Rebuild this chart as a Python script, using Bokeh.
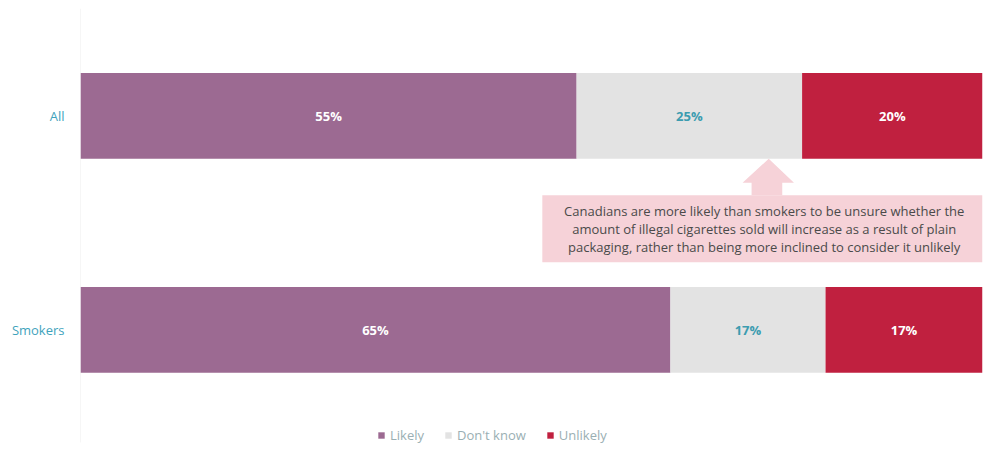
from bokeh.plotting import figure
from bokeh.models import ColumnDataSource, Range1d, Legend, LegendItem, FixedTicker
from bokeh.core.properties import value
from bokeh.embed import file_html
from bokeh.resources import INLINE
import numpy as np

categories = ["Smokers", "All"]
likely = [65.4, 55.0]
dont_know = [17.2, 25.0]
unlikely = [17.4, 20.0]
likely_labels = ["65%", "55%"]
dont_know_labels = ["17%", "25%"]
unlikely_labels = ["17%", "20%"]
series_names = ["Likely", "Don't know", "Unlikely"]
colors = ["#9C6A92", "#E3E3E3", "#C0203F"]
note_lines = [
    "Canadians are more likely than smokers to be unsure whether the",
    "amount of illegal cigarettes sold will increase as a result of plain",
    "packaging, rather than being more inclined to consider it unlikely",
]

FONT = "Open Sans"

ypos = list(range(len(categories)))
l = np.array(likely)
d = np.array(dont_know)
u = np.array(unlikely)
source = ColumnDataSource(dict(
    y=ypos, likely=likely, dont=dont_know, unlikely=unlikely,
))

p = figure(width=983, height=475, output_backend="svg", toolbar_location=None,
           y_range=Range1d(-0.657, 1.502), x_range=Range1d(0, 100),
           min_border_left=80, min_border_right=1, min_border_top=8,
           min_border_bottom=5)
p.outline_line_color = None
p.xgrid.visible = False
p.ygrid.visible = False
p.xaxis.visible = False
p.yaxis.axis_line_color = None
p.yaxis.ticker = FixedTicker(ticks=ypos)
p.yaxis.major_label_overrides = {i: c for i, c in zip(ypos, categories)}
p.yaxis.major_tick_line_color = None
p.yaxis.minor_tick_line_color = None
p.yaxis.major_label_text_color = "#3FA3BC"
p.yaxis.major_label_text_font = FONT
p.yaxis.major_label_text_font_size = "13px"
p.yaxis.major_label_standoff = 10

# faint axis line
p.segment(x0=[0], y0=[-0.526], x1=[0], y1=[1.502], line_color="#EDEDED", line_width=1)

rends = p.hbar_stack(["likely", "dont", "unlikely"], y="y", height=0.40,
                     color=colors, line_color=None, source=source)

# value labels
lab_src = ColumnDataSource(dict(
    x=list(l / 2) + list(l + d / 2) + list(l + d + u / 2),
    y=ypos * 3,
    t=likely_labels + dont_know_labels + unlikely_labels,
    c=["white"] * 2 + ["#3C9CB0"] * 2 + ["white"] * 2,
))
p.text(x="x", y="y", text="t", text_color="c", source=lab_src,
       text_align="center", text_baseline="middle", text_font=value(FONT),
       text_font_size="13px", text_font_style="bold")

# annotation box + arrow
pink = "#F6D2D8"
p.quad(left=[51.2], right=[100], bottom=[0.316], top=[0.629],
       fill_color=pink, line_color=None)
p.patch(x=[74.4, 74.4, 73.4, 76.3, 79.1, 77.8, 77.8],
        y=[0.629, 0.688, 0.688, 0.800, 0.688, 0.688, 0.629],
        fill_color=pink, line_color=None)
p.text(x=[75.8] * 3, y=[0.558, 0.470, 0.386], text=note_lines,
       text_align="center", text_baseline="middle", text_font=value(FONT),
       text_font_size="13px", text_color="#4A4A4A")

legend = Legend(items=[LegendItem(label=n, renderers=[r]) for n, r in zip(series_names, rends)],
                orientation="horizontal", location=(297, 26),
                glyph_width=8, glyph_height=8, label_text_font=FONT,
                label_text_font_size="13px", label_text_color="#9AAFB3",
                label_standoff=5, spacing=20, padding=0, margin=0,
                border_line_color=None, background_fill_alpha=0,
                label_height=12)
p.add_layout(legend, "center")

open("out.html", "w").write(file_html(p, INLINE))
